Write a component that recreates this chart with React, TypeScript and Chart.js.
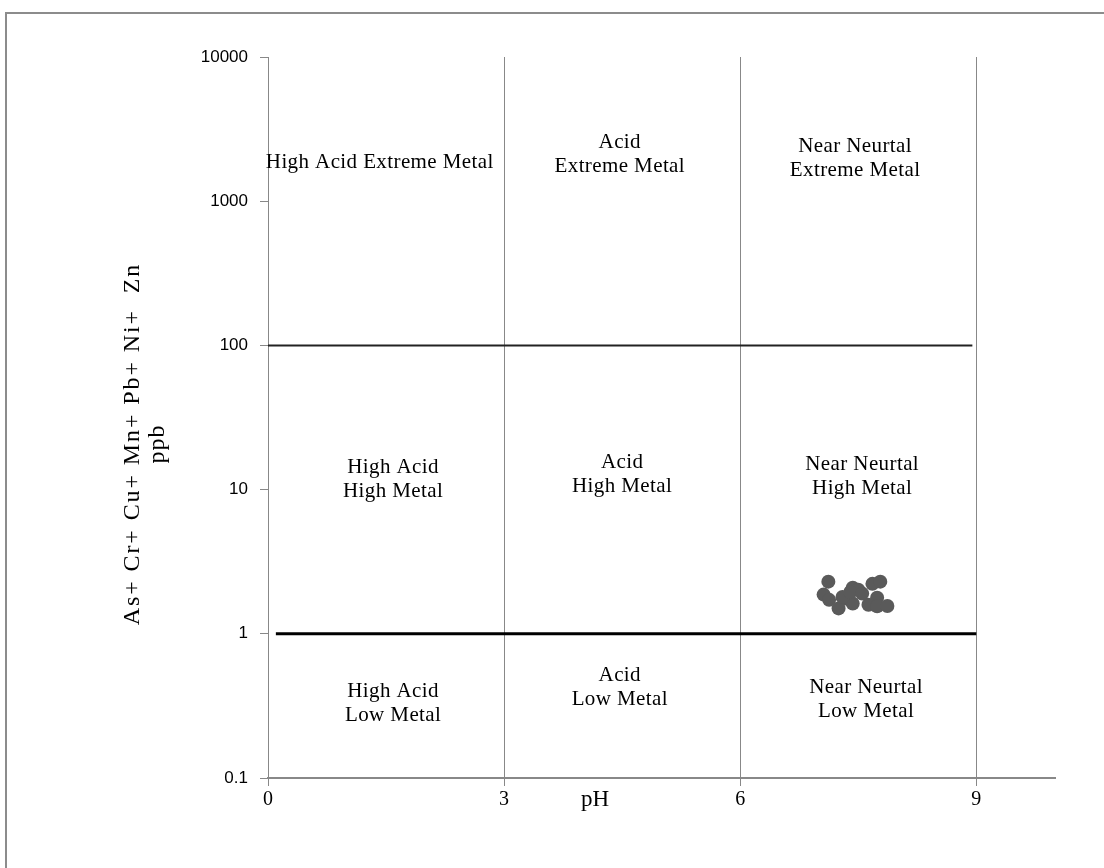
import React, { useEffect, useRef } from 'react';
import { Chart, registerables } from 'chart.js';
Chart.register(...registerables);

// Sample points (pH vs summed metals, ppb)
const phValues = [7.12, 7.06, 7.13, 7.25, 7.43, 7.50, 7.36, 7.43, 7.30, 7.40, 7.68, 7.78, 7.74, 7.63, 7.74, 7.87, 7.55];
const metalValues = [2.30, 1.87, 1.72, 1.50, 2.09, 2.02, 1.75, 1.62, 1.80, 1.95, 2.22, 2.30, 1.78, 1.59, 1.55, 1.56, 1.90];

// Axis ticks
const xTicks = [0, 3, 6, 9];
const yTicks = [0.1, 1, 10, 100, 1000, 10000];

// Boundary lines
const line100X = [-0.08, 8.95];
const line100Y = [100, 100];
const line1X = [0.1, 9];
const line1Y = [1, 1];

// Region labels
const regionText = [
  ['High Acid Extreme Metal'],
  ['Acid', 'Extreme Metal'],
  ['Near Neurtal', 'Extreme Metal'],
  ['High Acid', 'High Metal'],
  ['Acid', 'High Metal'],
  ['Near Neurtal', 'High Metal'],
  ['High Acid', 'Low Metal'],
  ['Acid', 'Low Metal'],
  ['Near Neurtal', 'Low Metal'],
];
const regionX = [1.42, 4.47, 7.46, 1.59, 4.50, 7.55, 1.59, 4.47, 7.60];
const regionY = [1897, 2154, 2021, 12.1, 13.1, 12.7, 0.337, 0.435, 0.36];

const xTitle = 'pH';
const yTitle = ['As+ Cr+ Cu+ Mn+ Pb+ Ni+  Zn', 'ppb'];

const labelsPlugin = {
  id: 'regionLabels',
  afterDatasetsDraw(chart: any) {
    const { ctx, chartArea, scales } = chart;
    const xs = scales.x;
    const ys = scales.y;
    ctx.save();
    ctx.fillStyle = '#000';
    ctx.font = '21px "Liberation Serif"';
    (ctx as any).letterSpacing = '0.4px';
    ctx.textAlign = 'center';
    ctx.textBaseline = 'middle';
    const lh = 24;
    regionText.forEach((lines, i) => {
      const cx = xs.getPixelForValue(regionX[i]);
      const cy = ys.getPixelForValue(regionY[i]) + 1.5;
      const top = cy - ((lines.length - 1) * lh) / 2;
      lines.forEach((t, j) => ctx.fillText(t, cx, top + j * lh));
    });
    // x title
    (ctx as any).letterSpacing = '0px';
    ctx.font = '23px "Liberation Serif"';
    ctx.fillText(xTitle, chartArea.left + 327, chartArea.bottom + 22);
    // y title
    ctx.font = '24px "Liberation Serif"';
    ctx.translate(chartArea.left - 123, chartArea.top + 387);
    ctx.rotate(-Math.PI / 2);
    (ctx as any).letterSpacing = '1.9px';
    ctx.fillText(yTitle[0], 0, -12);
    (ctx as any).letterSpacing = '1px';
    ctx.fillText(yTitle[1], 0, 13);
    ctx.restore();
  },
};

export default function App() {
  const ref = useRef<HTMLCanvasElement>(null);
  useEffect(() => {
    if (!ref.current) return;
    const chart = new Chart(ref.current, {
      type: 'scatter',
      data: {
        datasets: [
          {
            type: 'scatter',
            data: phValues.map((x, i) => ({ x, y: metalValues[i] })),
            pointRadius: 7,
            backgroundColor: '#5a5a5a',
            borderWidth: 0,
          } as any,
          {
            type: 'line',
            data: line100X.map((x, i) => ({ x, y: line100Y[i] })),
            borderColor: '#222',
            borderWidth: 2,
            pointRadius: 0,
            showLine: true,
          } as any,
          {
            type: 'line',
            data: line1X.map((x, i) => ({ x, y: line1Y[i] })),
            borderColor: '#000',
            borderWidth: 3,
            pointRadius: 0,
            showLine: true,
          } as any,
        ],
      },
      options: {
        responsive: false,
        animation: false,
        devicePixelRatio: 1,
        layout: { padding: { top: 57, right: 49, bottom: 0, left: 0 } },
        plugins: { legend: { display: false }, tooltip: { enabled: false } },
        scales: {
          x: {
            type: 'linear',
            min: 0,
            max: 10,
            afterBuildTicks: (s: any) => {
              s.ticks = xTicks.map((v) => ({ value: v }));
            },
            afterFit: (s: any) => {
              s.height = 90;
            },
            grid: { color: '#888', lineWidth: 1, tickLength: 8 },
            border: { color: '#888', width: 2 },
            ticks: {
              color: '#000',
              font: { family: 'Liberation Serif', size: 20 },
              padding: 2,
              maxRotation: 0,
              autoSkip: false,
            },
          },
          y: {
            type: 'logarithmic',
            min: 0.1,
            max: 10000,
            afterBuildTicks: (s: any) => {
              s.ticks = yTicks.map((v) => ({ value: v }));
            },
            afterFit: (s: any) => {
              s.width = 268;
            },
            grid: { color: '#888', drawOnChartArea: false, tickLength: 8 },
            border: { color: '#888', width: 1 },
            ticks: {
              color: '#000',
              font: { family: 'Liberation Sans', size: 17 },
              padding: 12,
              autoSkip: false,
              callback: (v: any) => String(v),
            },
          },
        },
      },
      plugins: [labelsPlugin],
    } as any);
    return () => chart.destroy();
  }, []);
  return (
    <div style={{ position: 'fixed', left: 0, top: 0, width: 1104, height: 868, overflow: 'hidden', background: '#fff' }}>
      <div style={{ position: 'absolute', left: 5, top: 12, width: 1200, height: 1000, border: '2px solid #8c8c8c' }} />
      <canvas ref={ref} width={1104} height={868} style={{ position: 'absolute', left: 0, top: 0 }} />
    </div>
  );
}
